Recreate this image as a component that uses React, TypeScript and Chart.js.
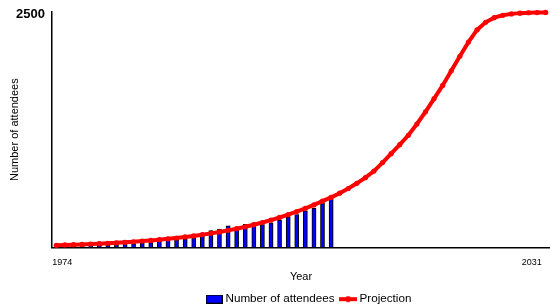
import React, { useEffect, useRef } from "react";
import { Chart, registerables } from "chart.js";

Chart.register(...registerables);

const years: string[] = [];
for (let y = 1974; y <= 2031; y++) years.push(String(y));

const attendees: (number | null)[] = [
  12, 14, 16, 18, 20, 23, 26, 29, 33, 38, 44,
  50, 64, 75, 82, 89, 103, 117, 178, 193, 228, 180, 245, 259, 241, 259, 287, 323, 348, 387, 413, 466, 515,
];

const projection: number[] = [
  22, 25, 28, 31, 35, 39, 43, 48, 53, 59,
  66, 73, 81, 90, 99, 110, 121, 134, 148, 163,
  180, 198, 218, 240, 263, 289, 317, 347, 380, 414,
  450, 490, 530, 575, 625, 680, 740, 810, 900, 995,
  1090, 1190, 1310, 1440, 1580, 1720, 1875, 2030, 2180, 2310,
  2390, 2440, 2465, 2480, 2488, 2492, 2494, 2495,
];

const yTickValues = [2500];
const xTickLabels = ["1974", "2031"];

const FONT = 'Arial, "Liberation Sans", sans-serif';

function makeBarIcon() {
  const c = document.createElement("canvas");
  c.width = 17;
  c.height = 9;
  const g = c.getContext("2d")!;
  g.fillStyle = "#0000ff";
  g.fillRect(0.5, 0.5, 16, 8);
  g.strokeStyle = "#000";
  g.lineWidth = 1;
  g.strokeRect(0.5, 0.5, 16, 8);
  return c;
}

function makeLineIcon() {
  const c = document.createElement("canvas");
  c.width = 18;
  c.height = 8;
  const g = c.getContext("2d")!;
  g.strokeStyle = "#ff0000";
  g.lineWidth = 4;
  g.beginPath();
  g.moveTo(0, 4);
  g.lineTo(18, 4);
  g.stroke();
  g.fillStyle = "#ff0000";
  g.beginPath();
  g.arc(9, 4, 3, 0, Math.PI * 2);
  g.fill();
  return c;
}

export default function App() {
  const ref = useRef<HTMLCanvasElement | null>(null);

  useEffect(() => {
    const canvas = ref.current;
    if (!canvas) return;
    const barIcon = makeBarIcon();
    const lineIcon = makeLineIcon();

    const shadowPlugin = {
      id: "barShadow",
      beforeDatasetDraw(chart: any, args: any) {
        if (args.index === 0) {
          const ctx = chart.ctx;
          ctx.save();
          ctx.shadowColor = "rgba(0,0,0,0.4)";
          ctx.shadowOffsetX = 2;
          ctx.shadowOffsetY = 0;
          ctx.shadowBlur = 0;
        }
      },
      afterDatasetDraw(chart: any, args: any) {
        if (args.index === 0) chart.ctx.restore();
      },
    };

    const legendShift = {
      id: "legendShift",
      afterLayout(chart: any) {
        const lg = chart.legend;
        if (lg) {
          lg.left += 9;
          lg.right += 9;
        }
      },
    };

    const chart = new Chart(canvas, {
      type: "bar",
      data: {
        labels: years,
        datasets: [
          {
            type: "bar",
            label: "Number of attendees",
            data: attendees,
            backgroundColor: "#0000ff",
            borderColor: "#000000",
            borderWidth: 1,
            barThickness: 4,
            order: 2,
          } as any,
          {
            type: "line",
            label: "Projection",
            data: projection,
            borderColor: "#ff0000",
            backgroundColor: "#ff0000",
            borderWidth: 4,
            pointRadius: 2.6,
            pointBorderWidth: 0,
            pointBackgroundColor: "#ff0000",
            tension: 0,
            order: 1,
            clip: false,
          } as any,
        ],
      },
      plugins: [shadowPlugin, legendShift],
      options: {
        animation: false,
        responsive: false,
        maintainAspectRatio: false,
        layout: { autoPadding: false, padding: { top: 12, right: 0, left: 0, bottom: -7 } },
        plugins: {
          tooltip: { enabled: false },
          legend: {
            position: "bottom",
            fullSize: false,
            labels: {
              usePointStyle: true,
              pointStyleWidth: 11,
              boxHeight: 9,
              padding: 8,
              color: "#000",
              font: { family: FONT, size: 11.7 },
              generateLabels(chart: any) {
                return chart.data.datasets.map((ds: any, i: number) => ({
                  text: ds.label,
                  pointStyle: i === 0 ? barIcon : lineIcon,
                  fillStyle: ds.backgroundColor,
                  strokeStyle: ds.borderColor,
                  lineWidth: 0,
                  hidden: false,
                  datasetIndex: i,
                  fontColor: "#000",
                }));
              },
            },
          },
        },
        scales: {
          x: {
            type: "category",
            offset: true,
            grid: { display: false, drawTicks: false, offset: false },
            border: { display: true, color: "#000", width: 1.5 },
            afterFit(scale: any) {
              scale.paddingLeft = 0;
              scale.paddingRight = 0;
            },
            ticks: {
              autoSkip: false,
              maxRotation: 0,
              minRotation: 0,
              align: "inner",
              labelOffset: -4,
              padding: 10,
              color: "#000",
              font: { family: FONT, size: 9 },
              callback: function (_v: any, i: number) {
                const lab = years[i];
                return xTickLabels.includes(lab) ? lab : "";
              },
            },
            title: {
              display: true,
              text: "Year",
              color: "#000",
              font: { family: FONT, size: 11 },
              padding: { top: -8, bottom: 2 },
            },
          },
          y: {
            min: 0,
            max: 2500,
            grid: { display: false, drawTicks: false },
            border: { display: true, color: "#000", width: 1.5 },
            afterBuildTicks(scale: any) {
              scale.ticks = yTickValues.map((v) => ({ value: v }));
            },
            afterFit(scale: any) {
              scale.width = 52;
              scale.paddingTop = 0;
            },
            ticks: {
              padding: 7,
              labelOffset: 2,
              color: "#000",
              font: { family: FONT, size: 13, weight: "bold" },
              callback: (v: any) => String(v),
            },
            title: {
              display: true,
              text: "Number of attendees",
              color: "#000",
              font: { family: FONT, size: 11 },
              padding: { top: 8, bottom: 0 },
            },
          },
        },
      },
    });
    return () => chart.destroy();
  }, []);

  return (
    <div style={{ position: "fixed", left: 0, top: 0, width: 550, height: 308, background: "#fff" }}>
      <canvas ref={ref} width={550} height={308} style={{ display: "block" }} />
    </div>
  );
}
